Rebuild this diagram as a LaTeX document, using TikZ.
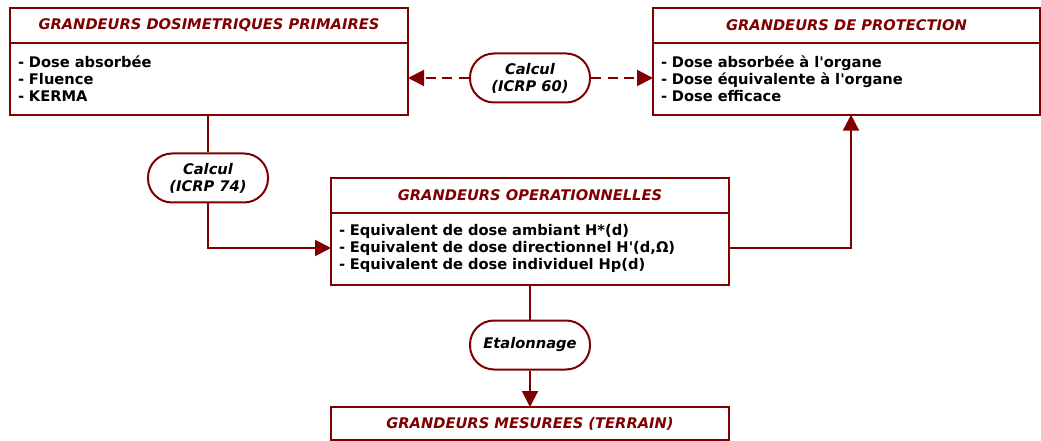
\documentclass[tikz,border=0pt]{standalone}
\usepackage{fontspec}
\setmainfont{DejaVu Sans}
\usepackage{tikz}
\usetikzlibrary{arrows.meta, positioning}
\definecolor{darkred}{HTML}{800000}

\begin{document}
\begin{tikzpicture}[x=0.75pt, y=-0.75pt, node distance=0pt,
        boxtitle/.style={rectangle, draw=darkred, line width=1.5pt, outer sep=0pt, fill=white, minimum width=#1, minimum height=26pt, inner sep=0pt, text=darkred, font=\fontsize{11}{12.75}\selectfont\bfseries\itshape},
        boxbody/.style={rectangle, draw=darkred, line width=1.5pt, outer sep=0pt, fill=white, text width=#1, minimum height=54pt, inner xsep=6pt, inner ysep=0pt, align=left, font=\fontsize{11}{12.75}\selectfont\bfseries},
        pill/.style={rectangle, rounded corners=18pt, draw=darkred, line width=1.5pt, fill=white, minimum width=90pt, minimum height=36.75pt, inner sep=0pt, align=center, font=\fontsize{11}{12.75}\selectfont\bfseries\itshape},
        link/.style={draw=darkred, line width=1.5pt},
        arrow/.style={link, -{Triangle[length=12pt, width=12pt]}},
        dasharrow/.style={arrow, dash pattern=on 7.5pt off 5pt}]

    \useasboundingbox (0,0) rectangle (1041,441);

    \node (primtitle) [boxtitle=298.5pt, anchor=north west] at (10,8) {GRANDEURS DOSIMETRIQUES PRIMAIRES};
    \node (primbody) [boxbody=286.5pt, below=of primtitle] {- Dose absorbée\\- Fluence\\- KERMA};

    \node (prottitle) [boxtitle=290.25pt, anchor=north west] at (653,8) {GRANDEURS DE PROTECTION};
    \node (protbody) [boxbody=278.25pt, below=of prottitle] {- Dose absorbée à l\textquotesingle organe\\- Dose équivalente à l\textquotesingle organe\\- Dose efficace};

    \node (optitle) [boxtitle=298.5pt, anchor=north west] at (331,178) {GRANDEURS OPERATIONNELLES};
    \node (opbody) [boxbody=286.5pt, below=of optitle] {- Equivalent de dose ambiant H*(d)\\- Equivalent de dose directionnel H\textquotesingle(d,Ω)\\- Equivalent de dose individuel Hp(d)};

    \node (mestitle) [boxtitle=298.5pt, minimum height=24.75pt, anchor=north west] at (331,407) {GRANDEURS MESUREES (TERRAIN)};

    \node (calcul60) [pill] at (530,78) {Calcul\\(ICRP 60)};
    \node (calcul74) [pill] at (208,178) {Calcul\\(ICRP 74)};
    \node (etal) [pill] at (530,345) {Etalonnage};

    \coordinate (bend74) at (208,248);
    \coordinate (bendprot) at (851,248);

    \draw [dasharrow] (calcul60) -- (primbody.east |- calcul60);
    \draw [dasharrow] (calcul60) -- (protbody.west |- calcul60);
    \draw [link] (primbody.south -| calcul74) -- (calcul74);
    \draw [arrow] (calcul74) -- (bend74) -- (opbody.west |- bend74);
    \draw [arrow] (opbody.east |- bendprot) -- (bendprot) -- (protbody.south -| bendprot);
    \draw [link] (opbody.south -| etal) -- (etal);
    \draw [arrow] (etal) -- (mestitle.north -| etal);
\end{tikzpicture}
\end{document}
